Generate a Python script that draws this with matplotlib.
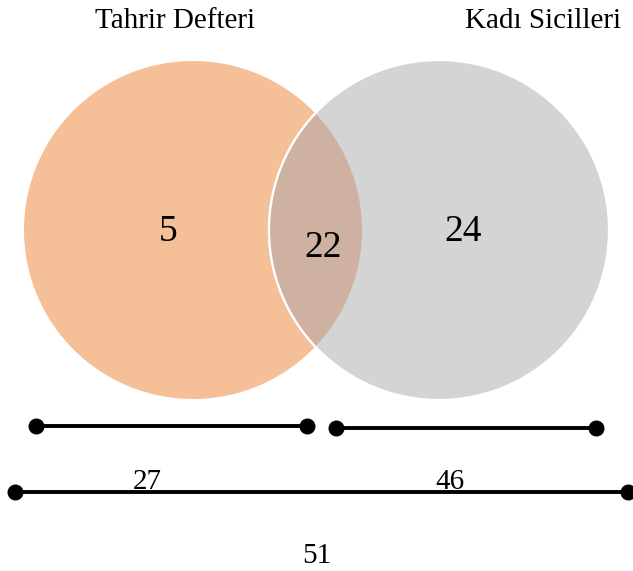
import matplotlib
matplotlib.use("Agg")
import matplotlib.pyplot as plt
from matplotlib.patches import Circle

# Data
set_names = ["Tahrir Defteri", "Kadı Sicilleri"]
region_counts = [5, 22, 24]          # only A, A∩B, only B
bracket_labels = [27, 46, 51]        # total A, total B, union

plt.rcParams['font.family'] = ['Liberation Serif', 'DejaVu Serif']

fig = plt.figure(figsize=(6.33, 5.71), dpi=100)
ax = fig.add_axes([0, 0, 1, 1])
ax.set_xlim(0, 633)
ax.set_ylim(571, 0)
ax.set_aspect('equal')
ax.axis('off')

orange = '#f5bf98'
gray = '#d4d4d4'
inter = '#cfb1a1'

cA = (193, 230); rA = 169
cB = (439, 230); rB = 170

circA = Circle(cA, rA, facecolor=orange, edgecolor='none', zorder=1)
ax.add_patch(circA)
circB = Circle(cB, rB, facecolor=gray, edgecolor='white', linewidth=1.6, zorder=2)
ax.add_patch(circB)
lens = Circle(cB, rB, facecolor=inter, edgecolor='white', linewidth=1.6, zorder=3)
ax.add_patch(lens)
clipA = Circle(cA, rA, transform=ax.transData)
lens.set_clip_path(clipA)

# Titles
ax.text(175, 21, set_names[0], ha='center', va='center', fontsize=21)
ax.text(543, 21, set_names[1], ha='center', va='center', fontsize=21)

# Region counts
ax.text(168, 232, str(region_counts[0]), ha='center', va='center', fontsize=27, zorder=5)
ax.text(323, 248, str(region_counts[1]), ha='center', va='center', fontsize=27, zorder=5)
ax.text(463, 232, str(region_counts[2]), ha='center', va='center', fontsize=27, zorder=5)

# Brackets
lw = 2.8; ms = 10.5
ax.plot([36, 307], [426, 426], color='black', lw=lw, marker='o', ms=ms, zorder=6)
ax.plot([336, 596], [428, 428], color='black', lw=lw, marker='o', ms=ms, zorder=6)
ax.plot([15, 628], [492, 492], color='black', lw=lw, marker='o', ms=ms, zorder=6, clip_on=False)

ax.text(147, 482, str(bracket_labels[0]), ha='center', va='center', fontsize=21, zorder=7)
ax.text(450, 482, str(bracket_labels[1]), ha='center', va='center', fontsize=21, zorder=7)
ax.text(317, 556, str(bracket_labels[2]), ha='center', va='center', fontsize=21, zorder=7)

fig.savefig("out.png", dpi=100)
